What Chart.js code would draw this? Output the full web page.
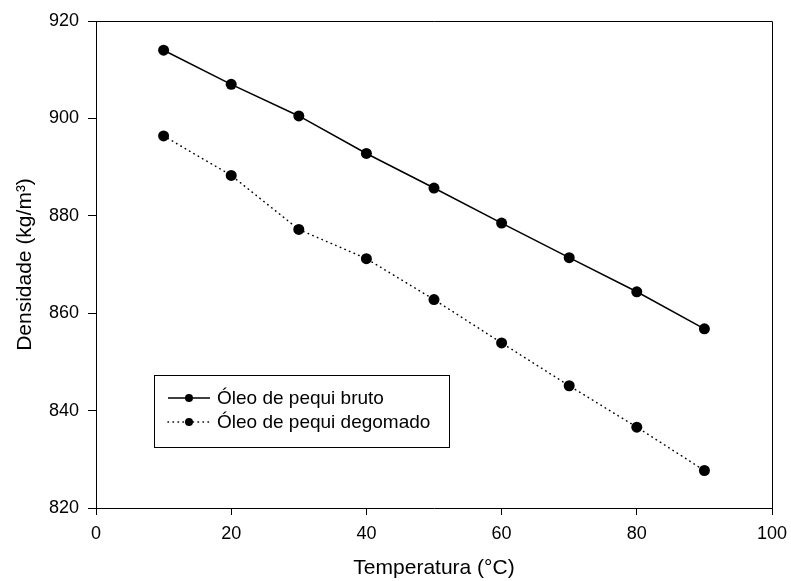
<!DOCTYPE html>
<html>
<head>
<meta charset="utf-8">
<script src="https://cdn.jsdelivr.net/npm/chart.js@4.4.1/dist/chart.umd.min.js"></script>
<style>
  html, body { margin: 0; padding: 0; background: #fff; }
  #wrap { width: 791px; height: 581px; }
</style>
</head>
<body>
<div id="wrap"><canvas id="densityChart" width="791" height="581"></canvas></div>
<script>
const temperatures = [10, 20, 30, 40, 50, 60, 70, 80, 90];
const densBruto = [914.0, 907.0, 900.5, 892.8, 885.7, 878.5, 871.4, 864.4, 856.8];
const densDegomado = [896.4, 888.3, 877.2, 871.2, 862.8, 853.9, 845.1, 836.6, 827.7];
const seriesLabels = ['Óleo de pequi bruto', 'Óleo de pequi degomado'];
const xTicks = [0, 20, 40, 60, 80, 100];
const yTicks = [820, 840, 860, 880, 900, 920];

const FONT = "'Liberation Sans', Arial, sans-serif";

const toPoints = vals => temperatures.map((t, i) => ({ x: t, y: vals[i] }));

// box around the plot + legend panel in the lower left
const framePlugin = {
    id: 'frameAndLegend',
    afterDraw(chart) {
        const { ctx, chartArea: a } = chart;
        ctx.save();
        ctx.strokeStyle = '#000';
        ctx.lineWidth = 1;
        ctx.beginPath();
        ctx.moveTo(a.left, a.top + 0.5);
        ctx.lineTo(a.right + 0.5, a.top + 0.5);
        ctx.lineTo(a.right + 0.5, a.bottom);
        ctx.stroke();

        const bx = a.left + 58, by = a.top + 354, bw = 295, bh = 72;
        ctx.strokeRect(bx + 0.5, by + 0.5, bw, bh);

        chart.data.datasets.forEach((ds, i) => {
            const ry = by + 23 + i * 24;
            ctx.beginPath();
            ctx.lineWidth = ds.borderWidth;
            ctx.lineCap = ds.borderCapStyle || 'butt';
            ctx.setLineDash(ds.borderDash || []);
            ctx.moveTo(bx + 14, ry);
            ctx.lineTo(bx + 56, ry);
            ctx.stroke();
            ctx.setLineDash([]);
            ctx.beginPath();
            ctx.fillStyle = '#000';
            ctx.arc(bx + 35, ry, 4, 0, Math.PI * 2);
            ctx.fill();
            ctx.font = '19px ' + FONT;
            ctx.textBaseline = 'middle';
            ctx.textAlign = 'left';
            ctx.fillText(ds.label, bx + 63, ry + 1);
        });
        ctx.restore();
    }
};

new Chart(document.getElementById('densityChart'), {
    type: 'line',
    data: {
        datasets: [
            {
                label: seriesLabels[0],
                data: toPoints(densBruto),
                borderColor: '#000',
                backgroundColor: '#000',
                borderWidth: 1.5,
                pointRadius: 5.5,
                pointBackgroundColor: '#000',
                pointBorderWidth: 0,
                tension: 0
            },
            {
                label: seriesLabels[1],
                data: toPoints(densDegomado),
                borderColor: '#000',
                backgroundColor: '#000',
                borderWidth: 1.5,
                borderDash: [0.5, 4.5],
                borderCapStyle: 'round',
                pointRadius: 5.5,
                pointBackgroundColor: '#000',
                pointBorderWidth: 0,
                tension: 0
            }
        ]
    },
    options: {
        responsive: false,
        animation: false,
        layout: { padding: { top: 21, right: 19, left: 0, bottom: 0 } },
        plugins: { legend: { display: false }, tooltip: { enabled: false } },
        scales: {
            x: {
                type: 'linear',
                min: 0,
                max: 100,
                afterBuildTicks: s => { s.ticks = xTicks.map(v => ({ value: v })); },
                afterFit: s => { s.height = 73; s.paddingLeft = 0; s.paddingRight = 0; },
                grid: { drawOnChartArea: false, drawTicks: true, tickLength: 7, color: '#000', lineWidth: 1 },
                border: { color: '#000', width: 1 },
                ticks: { color: '#000', padding: 8, font: { family: FONT, size: 18 }, maxRotation: 0 },
                title: { display: true, text: 'Temperatura (°C)', color: '#000', font: { family: FONT, size: 21 }, padding: { top: 0, bottom: 0 } }
            },
            y: {
                type: 'linear',
                min: 820,
                max: 920,
                afterBuildTicks: s => { s.ticks = yTicks.map(v => ({ value: v })); },
                afterFit: s => { s.width = 96; s.paddingTop = 0; s.paddingBottom = 0; },
                grid: { drawOnChartArea: false, drawTicks: true, tickLength: 8, color: '#000', lineWidth: 1 },
                border: { color: '#000', width: 1 },
                ticks: { color: '#000', padding: 9, font: { family: FONT, size: 18 } },
                title: { display: true, text: 'Densidade (kg/m³)', color: '#000', font: { family: FONT, size: 21 }, padding: { top: 13, bottom: 0 } }
            }
        }
    },
    plugins: [framePlugin]
});
</script>
</body>
</html>
